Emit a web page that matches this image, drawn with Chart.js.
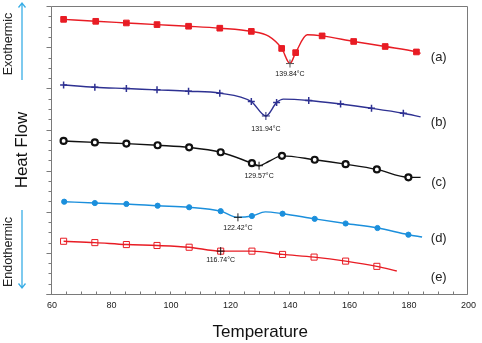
<!DOCTYPE html>
<html>
<head>
<meta charset="utf-8">
<script src="https://cdn.jsdelivr.net/npm/chart.js@4.4.0/dist/chart.umd.min.js"></script>
<style>
  html, body { margin:0; padding:0; background:#fff; }
  #wrap { width:482px; height:343px; }
</style>
</head>
<body>
<div id="wrap"><canvas id="dsc"></canvas></div>
<script>
// DSC curves (heat flow in arbitrary units, 0..28)
const tempA = [63.9, 74.7, 85.0, 95.3, 105.9, 116.4, 127.0, 132.8, 137.2, 140.0, 141.9, 145.8, 150.8, 161.4, 172.0, 182.5, 183.9];
const heatA = [26.72, 26.53, 26.37, 26.21, 26.05, 25.86, 25.55, 25.08, 23.89, 22.42, 23.48, 25.22, 25.11, 24.57, 24.08, 23.55, 23.41];
const bareA = [7, 9, 11, 16];

const tempB = [63.9, 74.4, 85.0, 95.3, 105.9, 116.4, 127.0, 131.9, 135.5, 137.8, 146.3, 157.0, 167.4, 178.1, 183.9];
const heatB = [20.34, 20.12, 19.99, 19.86, 19.73, 19.54, 18.72, 17.32, 18.62, 18.96, 18.83, 18.48, 18.07, 17.58, 17.23];
const bareB = [7, 9, 14];

const tempC = [63.9, 74.4, 85.0, 95.5, 106.1, 116.7, 127.2, 129.6, 132.8, 137.3, 148.3, 158.7, 169.2, 179.8, 183.9];
const heatC = [14.89, 14.75, 14.63, 14.47, 14.27, 13.79, 12.73, 12.48, 12.89, 13.44, 13.06, 12.63, 12.12, 11.35, 11.35];
const bareC = [7, 8, 14];

const tempD = [64.1, 74.4, 85.0, 95.5, 106.1, 116.7, 122.5, 127.2, 131.7, 137.5, 148.3, 158.7, 169.4, 179.8, 184.4];
const heatD = [8.98, 8.85, 8.76, 8.59, 8.44, 8.06, 7.46, 7.59, 7.99, 7.81, 7.31, 6.86, 6.42, 5.77, 5.55];
const bareD = [6, 8, 14];

const tempE = [63.9, 74.4, 85.0, 95.3, 106.1, 116.7, 127.2, 137.5, 148.1, 158.7, 169.2, 175.9];
const heatE = [5.13, 5.00, 4.81, 4.72, 4.55, 4.17, 4.17, 3.85, 3.59, 3.20, 2.69, 2.24];
const bareE = [11];

// peak points (index into each series) and their labels
const dipIndex = [9, 7, 7, 6, 5];
const dipText = ['139.84°C', '131.94°C', '129.57°C', '122.42°C', '116.74°C'];
const dipTextY = [21.39, 16.0, 11.45, 6.42, 3.27];

const seriesNames = ['(a)', '(b)', '(c)', '(d)', '(e)'];
const nameTemp = 190;
const nameY = [22.97, 16.74, 10.90, 5.36, 1.66];

const xTicks = [60, 80, 100, 120, 140, 160, 180, 200];

Chart.defaults.font.family = "'Liberation Sans', Arial, sans-serif";

const allTemps = [tempA, tempB, tempC, tempD, tempE];
const allHeats = [heatA, heatB, heatC, heatD, heatE];

function curve(temps, heats, bare, color, style, radius, fill, bw) {
  return {
    data: temps.map((t, i) => ({ x: t, y: heats[i] })),
    borderColor: color,
    borderWidth: 1.4,
    cubicInterpolationMode: 'monotone',
    pointStyle: style,
    pointRadius: temps.map((t, i) => bare.includes(i) ? 0 : radius),
    pointBackgroundColor: fill,
    pointBorderColor: color,
    pointBorderWidth: bw,
    order: 2
  };
}

const dips = {
  data: dipIndex.map((k, i) => ({ x: allTemps[i][k], y: allHeats[i][k] })),
  showLine: false,
  pointStyle: 'cross',
  pointRadius: 4,
  pointBorderWidth: 1,
  pointBorderColor: ['#555', '#1f2270', '#111', '#222', '#111'],
  order: 1
};

const decor = {
  id: 'decor',
  beforeDatasetsDraw(chart) {
    const { ctx, chartArea: a, scales: { x, y } } = chart;
    ctx.save();
    ctx.strokeStyle = '#7a7a7a';
    ctx.lineWidth = 1;
    const L = Math.round(a.left) - 0.5, R = Math.round(a.right) - 0.5;
    const T = Math.round(a.top) + 0.5, B = Math.round(a.bottom) + 0.5;
    ctx.beginPath();
    ctx.moveTo(L - 5, B); ctx.lineTo(R, B); ctx.lineTo(R, T); ctx.lineTo(L, T); ctx.lineTo(L, B);
    ctx.stroke();
    // x minor ticks, pointing in
    ctx.beginPath();
    for (let t = 60; t <= 200; t += 5) {
      const px = Math.round(x.getPixelForValue(t)) - 0.5;
      ctx.moveTo(px, B); ctx.lineTo(px, B - 3);
    }
    // y ticks, pointing out
    for (let v = 0; v <= 28; v++) {
      const py = Math.round(y.getPixelForValue(v)) + 0.5;
      ctx.moveTo(L, py); ctx.lineTo(L - (v % 4 === 0 ? 5 : 3), py);
    }
    ctx.stroke();
    ctx.restore();
  },
  afterDatasetsDraw(chart) {
    const { ctx, scales: { x, y } } = chart;
    ctx.save();
    ctx.textAlign = 'center';
    ctx.textBaseline = 'middle';
    ctx.fillStyle = '#111';
    ctx.font = "7px 'Liberation Sans', Arial, sans-serif";
    dipIndex.forEach((k, i) => {
      ctx.fillText(dipText[i], x.getPixelForValue(allTemps[i][k]), y.getPixelForValue(dipTextY[i]));
    });
    ctx.fillStyle = '#222';
    ctx.font = "13px 'Liberation Sans', Arial, sans-serif";
    seriesNames.forEach((s, i) => {
      ctx.fillText(s, x.getPixelForValue(nameTemp), y.getPixelForValue(nameY[i]));
    });

    // exo / endo side notes
    ctx.font = "12.5px 'Liberation Sans', Arial, sans-serif";
    [['Exothermic', 44], ['Endothermic', 252]].forEach(([txt, cy]) => {
      ctx.save();
      ctx.translate(9, cy);
      ctx.rotate(-Math.PI / 2);
      ctx.fillText(txt, 0, 0);
      ctx.restore();
    });
    ctx.strokeStyle = '#3aaee6';
    ctx.lineWidth = 1.3;
    ctx.beginPath();
    ctx.moveTo(22, 80); ctx.lineTo(22, 3);
    ctx.moveTo(18.5, 7.5); ctx.lineTo(22, 3); ctx.lineTo(25.5, 7.5);
    ctx.moveTo(22, 210); ctx.lineTo(22, 288);
    ctx.moveTo(18.5, 283.5); ctx.lineTo(22, 288); ctx.lineTo(25.5, 283.5);
    ctx.stroke();
    ctx.restore();
  }
};

new Chart(document.getElementById('dsc'), {
  type: 'line',
  data: {
    datasets: [
      dips,
      curve(tempA, heatA, bareA, 'rgb(232,28,36)', 'rect', 4, 'rgb(232,28,36)', 1),
      curve(tempB, heatB, bareB, 'rgb(46,49,146)', 'cross', 3.5, 'rgb(46,49,146)', 1.5),
      curve(tempC, heatC, bareC, '#111', 'circle', 3, '#fff', 2.2),
      curve(tempD, heatD, bareD, 'rgb(27,143,220)', 'circle', 2.6, 'rgb(27,143,220)', 1),
      curve(tempE, heatE, bareE, 'rgb(232,28,36)', 'rect', 4.3, 'rgba(0,0,0,0)', 1)
    ]
  },
  options: {
    responsive: true,
    maintainAspectRatio: false,
    animation: false,
    layout: { padding: { top: 3, right: 10, left: 0, bottom: 0 } },
    plugins: { legend: { display: false }, tooltip: { enabled: false } },
    scales: {
      x: {
        type: 'linear',
        min: 60,
        max: 200,
        afterBuildTicks(s) { s.ticks = xTicks.map(v => ({ value: v })); },
        border: { display: false },
        grid: { display: false, drawTicks: false },
        ticks: { padding: 6, color: '#222', font: { size: 9 }, maxRotation: 0 },
        title: { display: true, text: 'Temperature', color: '#111', font: { size: 17 }, padding: 0 },
        afterFit(s) { s.height = 49; }
      },
      y: {
        min: 0,
        max: 28,
        border: { display: false },
        grid: { display: false, drawTicks: false },
        ticks: { display: false },
        title: { display: true, text: 'Heat Flow', color: '#111', font: { size: 17 }, padding: { top: 12, bottom: 0 } },
        afterFit(s) { s.width = 52; }
      }
    }
  },
  plugins: [decor]
});
</script>
</body>
</html>
